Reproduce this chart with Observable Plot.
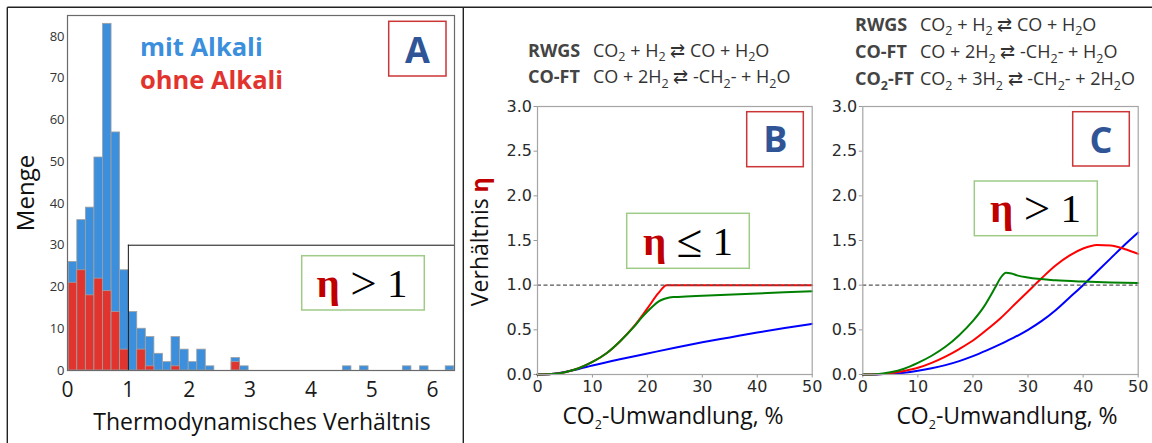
<!DOCTYPE html>
<html><head><meta charset="utf-8">
<script src="https://cdn.jsdelivr.net/npm/d3@7"></script>
<script src="https://cdn.jsdelivr.net/npm/@observablehq/plot@0.6"></script>
<style>
body{margin:0;background:#fff;}
#fig{position:relative;width:1152px;height:443px;overflow:hidden;background:#fff;font-family:"Open Sans",sans-serif;}
.panel{position:absolute;top:0;}
.panel svg{display:block;}
#overlay{position:absolute;left:0;top:0;pointer-events:none;}
</style></head>
<body><div id="fig"><div class="panel" id="pA" style="left:0"></div><div class="panel" id="pB" style="left:463px"></div><div class="panel" id="pC" style="left:820px"></div><div id="overlay"></div></div>
<script>
// ---------- Panel A: histogram data (45 bins) ----------
const binStart = 0.02, binWidth = 0.1408;
const mitAlkali  = [5,12,21,29,64,43,19,14,5,7, 4,2,7,5,2,5,1,0,0,1, 1,0,0,0,0,0,0,0,0,0, 0,0,1,0,1,0,0,0,0,1, 0,1,0,0,1];
const ohneAlkali = [21,24,18,22,19,14,5,0,5,1, 0,0,1,0,0,0,0,0,0,2, 0,0,0,0,0,0,0,0,0,0, 0,0,0,0,0,0,0,0,0,0, 0,0,0,0,0];
const aXTicks = [0,1,2,3,4,5,6];
const aYTicks = [0,10,20,30,40,50,60,70,80];
const aXMax = 6.36, aYMax = 85;
const highlightX = 1, highlightY = 30;

// ---------- Panels B & C: curves ----------
const curveXTicks = [0,10,20,30,40,50];
const curveYTicks = [0,0.5,1,1.5,2,2.5,3];

const bRedX   = [0,2.5,5,7.5,10,12.5,15,17.5,20,22,23.5,30,40,50];
const bRedY   = [0,0.005,0.026,0.07,0.14,0.235,0.37,0.535,0.74,0.91,1.0,1.0,1.0,1.0];
const bGreenX = [0,2.5,5,7.5,10,12.5,15,17.5,19,20,21,22,23,24,25,27,30,40,50];
const bGreenY = [0,0.005,0.026,0.07,0.14,0.235,0.37,0.53,0.64,0.705,0.765,0.815,0.845,0.862,0.868,0.873,0.881,0.907,0.933];
const bBlueX  = [0,2.5,5,7.5,10,15,20,25,30,35,40,45,50];
const bBlueY  = [0,0.006,0.028,0.062,0.1,0.17,0.235,0.3,0.36,0.415,0.47,0.52,0.567];

const cGreenX = [0,2.5,5,7.5,10,12.5,15,17.5,20,22,24,25,26,27,28,30,35,40,45,50];
const cGreenY = [0,0.004,0.025,0.065,0.13,0.21,0.31,0.44,0.6,0.76,0.97,1.08,1.14,1.13,1.11,1.085,1.055,1.04,1.03,1.025];
const cRedX   = [0,2.5,5,7.5,10,12.5,15,17.5,20,22.5,25,27.5,30,32.5,35,37.5,40,42.5,45,47.5,50];
const cRedY   = [0,0.003,0.015,0.04,0.075,0.13,0.2,0.285,0.38,0.5,0.63,0.78,0.93,1.08,1.22,1.33,1.41,1.45,1.445,1.405,1.35];
const cBlueX  = [0,2.5,5,7.5,10,12.5,15,17.5,20,22.5,25,27.5,30,32.5,35,37.5,40,42.5,45,47.5,50];
const cBlueY  = [0,0.001,0.007,0.02,0.042,0.07,0.105,0.15,0.205,0.27,0.34,0.415,0.5,0.6,0.72,0.86,1.0,1.15,1.3,1.45,1.59];

const BLUE_BAR = "#3b8fdc", RED_BAR = "#e2342f";

// ---------- Panel A ----------
const rows = mitAlkali.map((m, i) => ({
  x1: binStart + i * binWidth,
  x2: binStart + (i + 1) * binWidth,
  ohne: ohneAlkali[i],
  total: ohneAlkali[i] + m
}));

const plotA = Plot.plot({
  width: 463, height: 443,
  marginLeft: 67, marginRight: 9, marginTop: 15, marginBottom: 73,
  x: {domain: [0, aXMax], ticks: aXTicks, tickFormat: d3.format("d"), tickSize: 0, tickPadding: 12, label: null},
  y: {domain: [0, aYMax], ticks: aYTicks, tickFormat: d3.format("d"), tickSize: 0, tickPadding: 3, label: null},
  style: {fontFamily: "Open Sans", fontSize: "13px", color: "#333", background: "transparent", overflow: "visible"},
  marks: [
    Plot.rectY(rows.filter(d => d.total > 0), {x1: "x1", x2: "x2", y1: 0, y2: "total", fill: BLUE_BAR, stroke: "#a0a0a0", strokeWidth: 0.8}),
    Plot.rectY(rows.filter(d => d.ohne > 0), {x1: "x1", x2: "x2", y1: 0, y2: "ohne", fill: RED_BAR, stroke: "#a0a0a0", strokeWidth: 0.8}),
    Plot.ruleX([highlightX], {y1: 0, y2: highlightY, stroke: "#111", strokeWidth: 1}),
    Plot.ruleY([highlightY], {x1: highlightX, x2: aXMax, stroke: "#111", strokeWidth: 1}),
    Plot.frame({stroke: "#6a6a6a", strokeWidth: 1.2})
  ]
});
plotA.querySelectorAll('[aria-label^="x-axis"] text').forEach(t => { t.style.fontSize = "21px"; t.setAttribute("fill", "#1a1a1a"); });
document.getElementById("pA").appendChild(plotA);

// ---------- Panels B, C ----------
function pts(xs, ys) { return xs.map((x, i) => ({x, y: ys[i]})); }
function curvePlot(w, ml, mr, series) {
  const p = Plot.plot({
    width: w, height: 443,
    marginLeft: ml, marginRight: mr, marginTop: 106, marginBottom: 69,
    x: {domain: [0, 50], ticks: curveXTicks, tickFormat: d3.format("d"), tickSize: 3.5, tickPadding: 2.5, label: null},
    y: {domain: [0, 3], ticks: curveYTicks, tickFormat: d3.format(".1f"), tickSize: 3.5, tickPadding: 2, label: null},
    style: {fontFamily: "DejaVu Sans", fontSize: "16px", color: "#2a2a2a", background: "transparent", overflow: "visible"},
    marks: [
      ...series.map(s => Plot.line(pts(s.x, s.y), {x: "x", y: "y", stroke: s.color, strokeWidth: 2, curve: "monotone-x"})),
      Plot.ruleY([1], {stroke: "#555", strokeWidth: 1.2, strokeDasharray: "4,2.5"}),
      Plot.frame({stroke: "#a5a5a5", strokeWidth: 1.2})
    ]
  });
  p.querySelectorAll('[aria-label*="axis"] path, [aria-label*="axis"] line').forEach(e => e.setAttribute("stroke", "#999"));
  return p;
}
document.getElementById("pB").appendChild(curvePlot(357, 74, 8.3, [
  {x: bBlueX, y: bBlueY, color: "#0000ff"},
  {x: bRedX, y: bRedY, color: "#ff0000"},
  {x: bGreenX, y: bGreenY, color: "#008000"}
]));
document.getElementById("pC").appendChild(curvePlot(332, 42.3, 14.3, [
  {x: cBlueX, y: cBlueY, color: "#0000ff"},
  {x: cRedX, y: cRedY, color: "#ff0000"},
  {x: cGreenX, y: cGreenY, color: "#008000"}
]));

// ---------- Overlay annotations ----------
function eq(x, y, segs, attrs) {
  let out = `<text x="${x}" y="${y}" ${attrs}>`;
  let prevSub = false;
  for (const [t, sub] of segs) {
    if (sub) { out += `<tspan dy="4.5" font-size="12.5">${t}</tspan>`; prevSub = true; }
    else { out += `<tspan${prevSub ? ' dy="-4.5"' : ''}>${t}</tspan>`; prevSub = false; }
  }
  return out + `</text>`;
}
const EQ = `font-size="18" fill="#333" font-family="Open Sans"`;
const LB = `font-size="18" fill="#444" font-weight="bold" font-family="Open Sans"`;
const rwgs = [["CO"],["2",1],[" + H"],["2",1],[" ⇄ CO + H"],["2",1],["O"]];
const coft = [["CO + 2H"],["2",1],[" ⇄ -CH"],["2",1],["- + H"],["2",1],["O"]];
const co2ft = [["CO"],["2",1],[" + 3H"],["2",1],[" ⇄ -CH"],["2",1],["- + 2H"],["2",1],["O"]];

const etaBox = (x, y, w, h, cx, by, rel) => `
  <rect x="${x}" y="${y}" width="${w}" height="${h}" fill="none" stroke="#9fcb88" stroke-width="1.5"/>
  <text x="${cx}" y="${by}" text-anchor="middle" font-family="Liberation Serif" font-size="41" fill="#000"><tspan font-weight="bold" fill="#c00000">η</tspan> <tspan font-size="47" dy="2">${rel}</tspan><tspan dy="-2"> 1</tspan></text>`;
const letterBox = (x, y, w, h, L, cx, by) => `
  <rect x="${x}" y="${y}" width="${w}" height="${h}" fill="none" stroke="#cc3535" stroke-width="1.5"/>
  <text x="${cx}" y="${by}" text-anchor="middle" font-family="Open Sans" font-weight="bold" font-size="36" fill="#2f5597">${L}</text>`;

document.getElementById("overlay").innerHTML = `
<svg width="1152" height="443" xmlns="http://www.w3.org/2000/svg">
  <line x1="7.3" y1="7.3" x2="1152" y2="7.3" stroke="#222" stroke-width="1.4"/>
  <line x1="7.3" y1="7.3" x2="7.3" y2="443" stroke="#222" stroke-width="1.4"/>
  <line x1="463.3" y1="7.3" x2="463.3" y2="443" stroke="#222" stroke-width="1.4"/>

  <text x="140" y="56" font-family="Open Sans" font-weight="bold" font-size="25.5" fill="#3b8fdc">mit Alkali</text>
  <text x="140" y="89" font-family="Open Sans" font-weight="bold" font-size="25.5" fill="#e2342f">ohne Alkali</text>
  ${letterBox(388.7, 21.3, 57.3, 54.7, "A", 417.3, 62.7)}
  ${etaBox(301.7, 255.7, 122.6, 54.3, 362, 296.7, "&gt;")}
  <text transform="translate(34,193) rotate(-90)" text-anchor="middle" font-family="Open Sans" font-size="24" fill="#111">Menge</text>
  <text x="262" y="430" text-anchor="middle" font-family="Open Sans" font-size="23" fill="#111">Thermodynamisches Verhältnis</text>

  <text x="528" y="56.5" ${LB}>RWGS</text>${eq(593, 56.5, rwgs, EQ)}
  <text x="528" y="83" ${LB}>CO-FT</text>${eq(593, 83, coft, EQ)}
  ${letterBox(746.7, 111.7, 56.6, 55, "B", 775.3, 151.7)}
  ${etaBox(626.7, 213.3, 122.6, 55, 688, 255, "≤")}
  <text transform="translate(488,241.7) rotate(-90)" text-anchor="middle" font-family="Open Sans" font-size="23" fill="#111">Verhältnis <tspan font-weight="bold" fill="#c00000">η</tspan></text>
  ${eq(673, 424, [["CO"],["2",1],["-Umwandlung, %"]], 'text-anchor="middle" font-family="Open Sans" font-size="23" fill="#111"')}

  <text x="855" y="30.5" ${LB}>RWGS</text>${eq(920, 30.5, rwgs, EQ)}
  <text x="855" y="58" ${LB}>CO-FT</text>${eq(920, 58, coft, EQ)}
  ${eq(855, 85, [["CO"],["2",1],["-FT"]], LB)}${eq(920, 85, co2ft, EQ)}
  ${letterBox(1072.7, 111.7, 56.6, 54.3, "C", 1101, 153)}
  ${etaBox(974.3, 181, 123, 54.7, 1035.5, 221.7, "&gt;")}
  ${eq(1007, 424, [["CO"],["2",1],["-Umwandlung, %"]], 'text-anchor="middle" font-family="Open Sans" font-size="23" fill="#111"')}
</svg>`;
</script>
</body></html>
